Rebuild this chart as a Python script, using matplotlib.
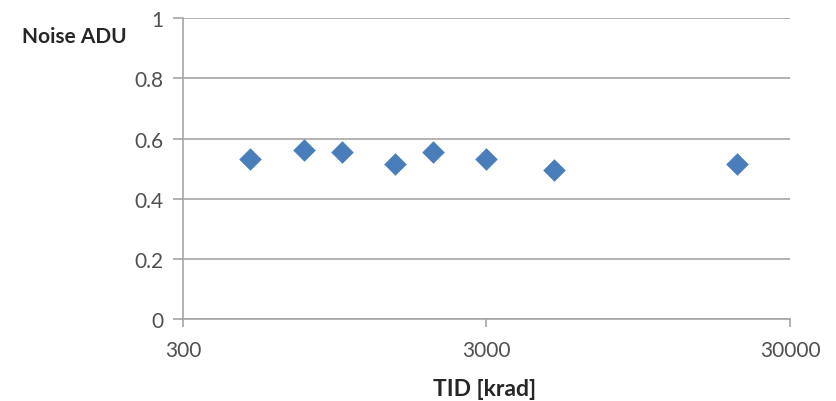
import matplotlib
matplotlib.use("Agg")
import matplotlib.pyplot as plt
from matplotlib.ticker import FixedLocator, NullLocator

# Total ionising dose [krad] and measured noise [ADU]
tid_krad = [500, 750, 1000, 1500, 2000, 3000, 5000, 20000]
noise_adu = [0.533, 0.563, 0.554, 0.517, 0.554, 0.533, 0.494, 0.517]

x_ticks = [300, 3000, 30000]
x_tick_labels = ["300", "3000", "30000"]
y_ticks = [0, 0.2, 0.4, 0.6, 0.8, 1]
y_tick_labels = ["0", "0.2", "0.4", "0.6", "0.8", "1"]

plt.rcParams["font.family"] = ["Lato", "DejaVu Sans"]

grid_col = "#a6a6a6"
text_col = "#505050"

W, H = 837, 402
fig = plt.figure(figsize=(W / 100, H / 100), dpi=100)
left, right, top, bottom = 183, 790, 19.3, 320
ax = fig.add_axes([left / W, 1 - bottom / H, (right - left) / W, (bottom - top) / H])

ax.scatter(tid_krad, noise_adu, marker="D", s=11.5 ** 2, color="#4a7ebb",
           linewidths=0, zorder=3)

ax.set_xscale("log")
ax.set_xlim(300, 30000)
ax.set_ylim(0, 1)
ax.xaxis.set_major_locator(FixedLocator(x_ticks))
ax.xaxis.set_minor_locator(NullLocator())
ax.set_xticklabels(x_tick_labels)
ax.set_yticks(y_ticks)
ax.set_yticklabels(y_tick_labels)

ax.grid(axis="y", color=grid_col, linewidth=1.2)
ax.set_axisbelow(True)
for side in ("top", "right"):
    ax.spines[side].set_visible(False)
for side in ("left", "bottom"):
    ax.spines[side].set_color(grid_col)
    ax.spines[side].set_linewidth(1.2)

ax.tick_params(axis="both", colors=grid_col, labelcolor=text_col,
               labelsize=15, width=1.2)
ax.tick_params(axis="x", length=6, pad=9)
ax.tick_params(axis="y", length=7, pad=7)

fig.text(22 / W, 1 - 37 / H, "Noise ADU", fontsize=15, fontweight="bold",
         color="#262626", ha="left", va="center")
fig.text(485 / W, 1 - 390 / H, "TID [krad]", fontsize=16.5, fontweight="bold",
         color="#262626", ha="center", va="center")

fig.savefig("out.png", dpi=100, facecolor="white")
